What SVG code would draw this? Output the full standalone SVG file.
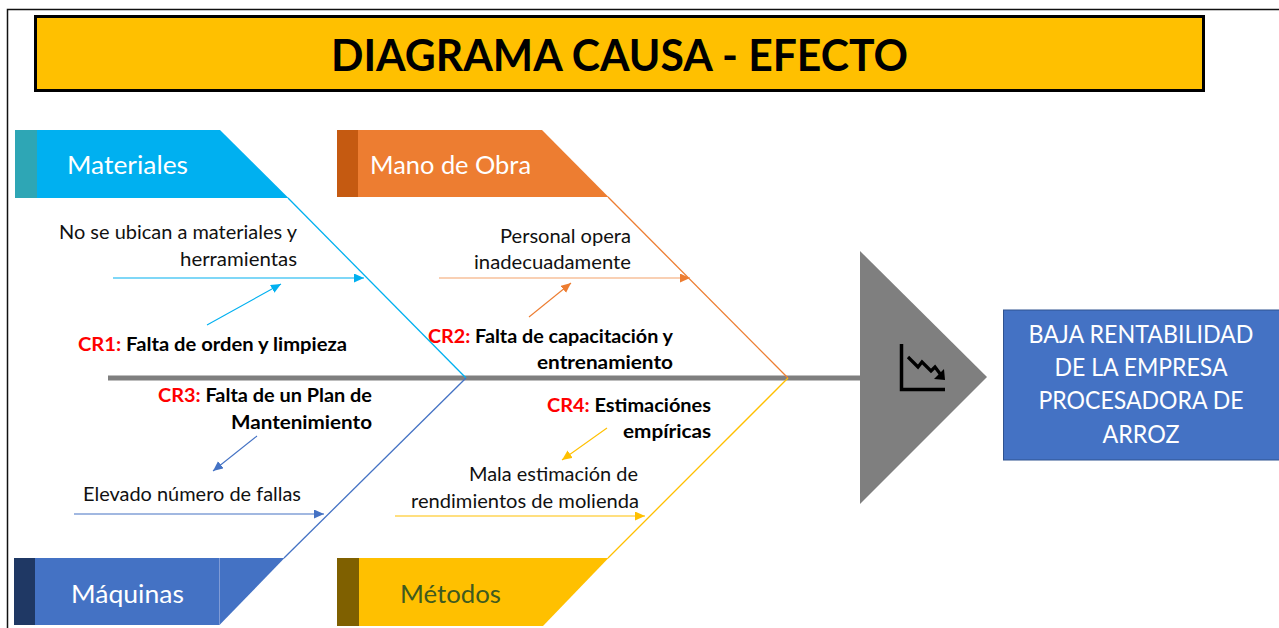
<svg xmlns="http://www.w3.org/2000/svg" width="1279" height="628" viewBox="0 0 1279 628">
<style>
text{font-family:Lato,"Open Sans","Liberation Sans",sans-serif}
.t{font-size:19.500px;fill:#111}
.b{font-size:19px;font-weight:700;fill:#000}
.r{fill:#f00}
.h{font-size:25.500px;fill:#fff}
.w{font-size:24.500px;fill:#fff}
.bone{fill:none;stroke-width:1.300}
.arr{fill:none;stroke-width:1.100}
</style>
<defs>
<marker id="mb" markerUnits="userSpaceOnUse" markerWidth="11" markerHeight="10" refX="10" refY="4.500" orient="auto"><path d="M0 0L10 4.500L0 9Z" fill="#00b0f0"/></marker>
<marker id="mo" markerUnits="userSpaceOnUse" markerWidth="11" markerHeight="10" refX="10" refY="4.500" orient="auto"><path d="M0 0L10 4.500L0 9Z" fill="#ed7d31"/></marker>
<marker id="mk" markerUnits="userSpaceOnUse" markerWidth="11" markerHeight="10" refX="10" refY="4.500" orient="auto"><path d="M0 0L10 4.500L0 9Z" fill="#4472c4"/></marker>
<marker id="my" markerUnits="userSpaceOnUse" markerWidth="11" markerHeight="10" refX="10" refY="4.500" orient="auto"><path d="M0 0L10 4.500L0 9Z" fill="#ffc000"/></marker>
</defs>
<rect width="1279" height="628" fill="#fff"/>
<path d="M7.500 628V9.500H1279" fill="none" stroke="#111" stroke-width="1.500"/>
<g id="titulo">
<rect x="35.500" y="16.500" width="1168" height="74" fill="#ffc000" stroke="#000" stroke-width="3"/>
<text x="331" y="71" font-size="44px" font-weight="700" fill="#000" textLength="577" lengthAdjust="spacingAndGlyphs">DIAGRAMA CAUSA - EFECTO</text>
</g>
<g id="connectors">
<path d="M108 378H861" stroke="#7f7f7f" stroke-width="5" fill="none"/>
<path class="bone" d="M288 198L466 378" stroke="#00b0f0"/>
<path class="bone" d="M608 197L788 378" stroke="#ed7d31"/>
<path class="bone" d="M466 378L284 558" stroke="#4472c4"/>
<path class="bone" d="M788 378L608 558" stroke="#ffc000"/>
<path class="arr" d="M113 278H364" stroke="#00b0f0" marker-end="url(#mb)"/>
<path class="arr" d="M207 325L281 284" stroke="#00b0f0" marker-end="url(#mb)"/>
<path class="arr" d="M439 278H690" stroke="#f4a26b" marker-end="url(#mo)"/>
<path class="arr" d="M529 317L571 283" stroke="#ed7d31" marker-end="url(#mo)"/>
<path class="arr" d="M74 514H324" stroke="#4472c4" marker-end="url(#mk)"/>
<path class="arr" d="M257 436L213 471" stroke="#4472c4" marker-end="url(#mk)"/>
<path class="arr" d="M395 516H645" stroke="#ffc000" marker-end="url(#my)"/>
<path class="arr" d="M607 428L562 460" stroke="#ffc000" marker-end="url(#my)"/>
</g>
<g id="materiales">
<rect x="15" y="130" width="22" height="68" fill="#2ea6b5"/>
<path d="M37 130H220L288.500 198H37Z" fill="#00b0f0"/>
<text class="h" x="67" y="174" textLength="121" lengthAdjust="spacingAndGlyphs">Materiales</text>
</g>
<g id="mano-de-obra">
<rect x="337" y="130" width="21" height="67" fill="#c55a11"/>
<path d="M358 130H542L608.500 197H358Z" fill="#ed7d31"/>
<text class="h" x="370" y="174" textLength="161" lengthAdjust="spacingAndGlyphs">Mano de Obra</text>
</g>
<g id="maquinas">
<rect x="14" y="558" width="21" height="67" fill="#1f3864"/>
<path d="M35 558H284.500L219.500 625H35Z" fill="#4472c4"/>
<path d="M219.500 558V625" stroke="#7f9bd6" stroke-width="1"/>
<text class="h" x="71" y="603" textLength="113" lengthAdjust="spacingAndGlyphs">Máquinas</text>
</g>
<g id="metodos">
<rect x="337" y="558" width="22" height="68" fill="#7f6000"/>
<path d="M359 558H608.500L543 626H359Z" fill="#ffc000"/>
<text class="h" x="400" y="603" style="fill:#3f5a1f" textLength="101" lengthAdjust="spacingAndGlyphs">Métodos</text>
</g>
<g id="causa-materiales">
<text class="t" x="59" y="239" textLength="238" lengthAdjust="spacingAndGlyphs">No se ubican a materiales y</text>
<text class="t" x="180" y="266" textLength="117" lengthAdjust="spacingAndGlyphs">herramientas</text>
</g>
<g id="cr1">
<text class="b" x="78" y="351" textLength="269" lengthAdjust="spacingAndGlyphs"><tspan class="r">CR1:</tspan> Falta de orden y limpieza</text>
</g>
<g id="causa-mano">
<text class="t" x="500" y="243" textLength="131" lengthAdjust="spacingAndGlyphs">Personal opera</text>
<text class="t" x="474" y="269" textLength="157" lengthAdjust="spacingAndGlyphs">inadecuadamente</text>
</g>
<g id="cr2">
<text class="b" x="428" y="343" textLength="245" lengthAdjust="spacingAndGlyphs"><tspan class="r">CR2:</tspan> Falta de capacitación y</text>
<text class="b" x="537" y="369" textLength="136" lengthAdjust="spacingAndGlyphs">entrenamiento</text>
</g>
<g id="cr3">
<text class="b" x="158" y="402" textLength="214" lengthAdjust="spacingAndGlyphs"><tspan class="r">CR3:</tspan> Falta de un Plan de</text>
<text class="b" x="231" y="429" textLength="141" lengthAdjust="spacingAndGlyphs">Mantenimiento</text>
</g>
<g id="causa-maquinas">
<text class="t" x="83" y="501" textLength="218" lengthAdjust="spacingAndGlyphs">Elevado número de fallas</text>
</g>
<g id="cr4">
<text class="b" x="547" y="412" textLength="164" lengthAdjust="spacingAndGlyphs"><tspan class="r">CR4:</tspan> Estimaciónes</text>
<text class="b" x="623" y="438" textLength="88" lengthAdjust="spacingAndGlyphs">empíricas</text>
</g>
<g id="causa-metodos">
<text class="t" x="469" y="481" textLength="169" lengthAdjust="spacingAndGlyphs">Mala estimación de</text>
<text class="t" x="411" y="508" textLength="228" lengthAdjust="spacingAndGlyphs">rendimientos de molienda</text>
</g>
<g id="cabeza">
<path d="M860 251L987 377L860 504Z" fill="#7f7f7f"/>
<path d="M901.500 344V389.500H945" fill="none" stroke="#000" stroke-width="3.500"/>
<path d="M908 357L918 367L922 362L931 371L935 367L941 375" fill="none" stroke="#000" stroke-width="3.200"/>
<path d="M945 380L934 379L944 369Z" fill="#000"/>
</g>
<g id="efecto">
<rect x="1003.500" y="310" width="276" height="150" fill="#4472c4" stroke="#2f528f" stroke-width="1"/>
<g text-anchor="middle">
<text class="w" x="1141" y="343" textLength="225" lengthAdjust="spacingAndGlyphs">BAJA RENTABILIDAD</text>
<text class="w" x="1141" y="376" textLength="173" lengthAdjust="spacingAndGlyphs">DE LA EMPRESA</text>
<text class="w" x="1141" y="409" textLength="205" lengthAdjust="spacingAndGlyphs">PROCESADORA DE</text>
<text class="w" x="1141" y="443" textLength="77" lengthAdjust="spacingAndGlyphs">ARROZ</text>
</g>
</g>
</svg>
